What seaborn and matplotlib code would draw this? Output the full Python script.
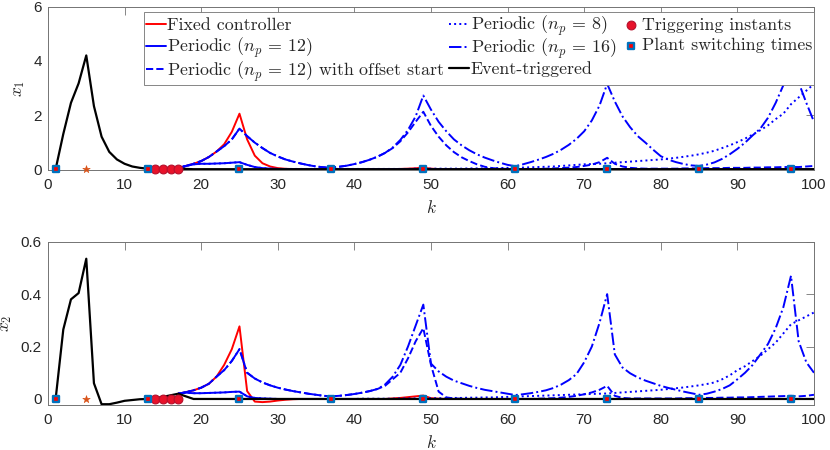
import matplotlib
matplotlib.use("Agg")
import matplotlib.pyplot as plt
import seaborn as sns

# ---------------- data ----------------
k_all = list(range(1, 101))     # k = 1..100
k_late = list(range(17, 101))   # k = 17..100 (after event-triggered phase)

event_x1 = [0, 1.3, 2.45, 3.17, 4.2, 2.33, 1.2, 0.64, 0.36, 0.2,
            0.1, 0.05, 0.02, 0.01, 0.01, 0.01, 0.02, 0.01, 0, 0,
            0, 0, 0, 0, 0, 0, 0, 0, 0, 0,
            0, 0, 0, 0, 0, 0, 0, 0, 0, 0,
            0, 0, 0, 0, 0, 0, 0, 0, 0, 0,
            0, 0, 0, 0, 0, 0, 0, 0, 0, 0,
            0, 0, 0, 0, 0, 0, 0, 0, 0, 0,
            0, 0, 0, 0, 0, 0, 0, 0, 0, 0,
            0, 0, 0, 0, 0, 0, 0, 0, 0, 0,
            0, 0, 0, 0, 0, 0, 0, 0, 0, 0]
event_x2 = [0, 0.265, 0.38, 0.404, 0.535, 0.06, -0.02, -0.02, -0.014, -0.007,
            -0.004, -0.001, 0, 0.003, 0.008, 0.014, 0.02, 0.01, 0, 0,
            0, 0, 0, 0, 0, 0, 0, 0, 0, 0,
            0, 0, 0, 0, 0, 0, 0, 0, 0, 0,
            0, 0, 0, 0, 0, 0, 0, 0, 0, 0,
            0, 0, 0, 0, 0, 0, 0, 0, 0, 0,
            0, 0, 0, 0, 0, 0, 0, 0, 0, 0,
            0, 0, 0, 0, 0, 0, 0, 0, 0, 0,
            0, 0, 0, 0, 0, 0, 0, 0, 0, 0,
            0, 0, 0, 0, 0, 0, 0, 0, 0, 0]

fixed_x1 = [0.04, 0.12, 0.2, 0.3,
            0.45, 0.65, 0.92, 1.38, 2.05, 1.1, 0.5, 0.22, 0.1, 0.04,
            0.015, 0.005, 0, 0, 0, 0, 0, 0, 0, 0,
            0, 0, 0, 0, 0.005, 0.01, 0.02, 0.035, 0.06, 0.02,
            0.005, 0, 0, 0, 0, 0, 0, 0, 0, 0,
            0, 0, 0, 0, 0, 0, 0, 0, 0, 0,
            0, 0.005, 0.01, 0.005, 0, 0, 0, 0, 0, 0,
            0, 0, 0, 0, 0, 0, 0, 0, 0, 0,
            0, 0, 0, 0, 0, 0, 0, 0, 0, 0]
fixed_x2 = [0.02, 0.026, 0.033, 0.043,
            0.058, 0.085, 0.13, 0.19, 0.277, 0.03, -0.01, -0.012, -0.01, -0.006,
            -0.003, -0.001, 0, 0, 0, 0, 0, 0, 0, 0,
            0, 0, 0, 0, 0.002, 0.004, 0.007, 0.01, 0.013, 0.003,
            0.001, 0, 0, 0, 0, 0, 0, 0, 0, 0,
            0, 0, 0, 0, 0, 0, 0, 0, 0, 0,
            0, 0, 0, 0, 0, 0, 0, 0, 0, 0,
            0, 0, 0, 0, 0, 0, 0, 0, 0, 0,
            0, 0, 0, 0, 0, 0, 0, 0, 0, 0]

per12_x1 = [0.04, 0.12, 0.18, 0.2,
            0.2, 0.21, 0.22, 0.24, 0.26, 0.16, 0.08, 0.04, 0.02, 0.01,
            0, 0, 0, 0, 0, 0, 0, 0, 0, 0,
            0, 0, 0, 0, 0, 0, 0, 0, 0, 0,
            0, 0, 0, 0, 0, 0, 0, 0, 0, 0,
            0, 0, 0, 0, 0, 0, 0, 0, 0, 0,
            0, 0, 0, 0, 0, 0, 0, 0, 0, 0,
            0, 0, 0, 0, 0, 0, 0, 0, 0, 0,
            0, 0, 0, 0, 0, 0, 0, 0, 0, 0]
per12_x2 = [0.02, 0.024, 0.022, 0.022,
            0.023, 0.024, 0.025, 0.027, 0.028, 0.01, 0.004, 0.002, 0.001, 0,
            0, 0, 0, 0, 0, 0, 0, 0, 0, 0,
            0, 0, 0, 0, 0, 0, 0, 0, 0, 0,
            0, 0, 0, 0, 0, 0, 0, 0, 0, 0,
            0, 0, 0, 0, 0, 0, 0, 0, 0, 0,
            0, 0, 0, 0, 0, 0, 0, 0, 0, 0,
            0, 0, 0, 0, 0, 0, 0, 0, 0, 0,
            0, 0, 0, 0, 0, 0, 0, 0, 0, 0]

offset_x1 = [0.04, 0.12, 0.2, 0.3,
             0.45, 0.65, 0.85, 1.1, 1.5, 1.22, 0.98, 0.78, 0.6, 0.47,
             0.36, 0.28, 0.21, 0.15, 0.1, 0.07, 0.06, 0.09, 0.13, 0.19,
             0.26, 0.35, 0.46, 0.6, 0.78, 1.03, 1.36, 1.75, 2.12, 1.6,
             1.2, 0.88, 0.63, 0.44, 0.3, 0.18, 0.09, 0.04, 0.02, 0.01,
             0.01, 0.01, 0.01, 0.01, 0.02, 0.03, 0.04, 0.06, 0.08, 0.12,
             0.17, 0.26, 0.42, 0.2, 0.1, 0.05, 0.03, 0.02, 0.02, 0.02,
             0.02, 0.02, 0.03, 0.03, 0.03, 0.04, 0.04, 0.04, 0.05, 0.05,
             0.05, 0.06, 0.06, 0.07, 0.07, 0.08, 0.08, 0.08, 0.1, 0.12]
offset_x2 = [0.02, 0.026, 0.033, 0.043,
             0.058, 0.085, 0.11, 0.145, 0.19, 0.1, 0.078, 0.063, 0.052, 0.043,
             0.036, 0.03, 0.025, 0.02, 0.016, 0.012, 0.01, 0.012, 0.015, 0.019,
             0.024, 0.03, 0.038, 0.05, 0.075, 0.1, 0.155, 0.22, 0.27, 0.13,
             0.028, 0.006, 0.002, 0.001, 0, 0, 0, 0, 0, 0,
             0, 0, 0, 0.001, 0.002, 0.003, 0.005, 0.008, 0.012, 0.018,
             0.025, 0.035, 0.05, 0.012, 0.004, 0.002, 0.002, 0.002, 0.002, 0.002,
             0.002, 0.002, 0.003, 0.003, 0.003, 0.004, 0.004, 0.005, 0.005, 0.006,
             0.006, 0.007, 0.008, 0.009, 0.01, 0.011, 0.012, 0.01, 0.012, 0.016]

per8_x1 = [0.04, 0.12, 0.18, 0.2,
           0.2, 0.21, 0.22, 0.24, 0.26, 0.16, 0.08, 0.04, 0.02, 0.01,
           0.01, 0.01, 0.01, 0.01, 0.01, 0.01, 0.01, 0.01, 0.01, 0.01,
           0.01, 0.01, 0.01, 0.01, 0.01, 0.01, 0.01, 0.02, 0.02, 0.02,
           0.02, 0.02, 0.02, 0.02, 0.03, 0.03, 0.03, 0.04, 0.04, 0.05,
           0.05, 0.06, 0.07, 0.08, 0.09, 0.1, 0.12, 0.14, 0.16, 0.18,
           0.19, 0.2, 0.22, 0.24, 0.26, 0.28, 0.3, 0.32, 0.34, 0.36,
           0.39, 0.42, 0.46, 0.5, 0.55, 0.61, 0.68, 0.78, 0.88, 1.0,
           1.13, 1.28, 1.44, 1.62, 1.85, 2.05, 2.4, 2.65, 2.9, 3.15]
per8_x2 = [0.02, 0.024, 0.022, 0.022,
           0.023, 0.024, 0.025, 0.027, 0.028, 0.01, 0.004, 0.002, 0.001, 0,
           0, 0, 0, 0, 0, 0, 0, 0, 0, 0,
           0.001, 0.001, 0.001, 0.001, 0.001, 0.002, 0.002, 0.002, 0.002, 0.003,
           0.003, 0.003, 0.004, 0.004, 0.005, 0.005, 0.006, 0.006, 0.007, 0.008,
           0.009, 0.01, 0.011, 0.012, 0.013, 0.014, 0.015, 0.016, 0.017, 0.018,
           0.019, 0.02, 0.021, 0.023, 0.025, 0.027, 0.029, 0.031, 0.033, 0.035,
           0.038, 0.041, 0.044, 0.048, 0.052, 0.057, 0.063, 0.075, 0.09, 0.11,
           0.125, 0.145, 0.165, 0.19, 0.215, 0.25, 0.285, 0.3, 0.315, 0.33]

per16_x1 = [0.04, 0.12, 0.2, 0.3,
            0.45, 0.65, 0.85, 1.1, 1.5, 1.22, 0.98, 0.78, 0.6, 0.47,
            0.36, 0.28, 0.21, 0.15, 0.1, 0.07, 0.06, 0.09, 0.13, 0.19,
            0.26, 0.35, 0.46, 0.6, 0.8, 1.08, 1.45, 1.95, 2.72, 2.2,
            1.75, 1.4, 1.1, 0.88, 0.7, 0.55, 0.43, 0.33, 0.24, 0.16,
            0.11, 0.18, 0.26, 0.35, 0.45, 0.57, 0.72, 0.9, 1.12, 1.4,
            1.8, 2.35, 3.15, 2.5, 1.95, 1.55, 1.22, 0.98, 0.72, 0.48,
            0.35, 0.26, 0.19, 0.14, 0.12, 0.17, 0.25, 0.38, 0.55, 0.75,
            0.98, 1.25, 1.5, 1.9, 2.45, 3.1, 4.0, 3.2, 2.45, 1.75]
per16_x2 = [0.02, 0.026, 0.033, 0.043,
            0.058, 0.085, 0.11, 0.145, 0.19, 0.1, 0.078, 0.063, 0.052, 0.043,
            0.036, 0.03, 0.025, 0.02, 0.016, 0.012, 0.01, 0.012, 0.015, 0.019,
            0.024, 0.03, 0.038, 0.055, 0.085, 0.13, 0.2, 0.28, 0.36, 0.135,
            0.105, 0.085, 0.07, 0.06, 0.05, 0.042, 0.035, 0.03, 0.025, 0.02,
            0.015, 0.018, 0.022, 0.027, 0.033, 0.042, 0.055, 0.072, 0.095, 0.14,
            0.2, 0.29, 0.4, 0.17, 0.12, 0.098, 0.082, 0.07, 0.06, 0.05,
            0.042, 0.035, 0.028, 0.022, 0.016, 0.02, 0.028, 0.038, 0.052, 0.075,
            0.1, 0.13, 0.17, 0.21, 0.27, 0.35, 0.47, 0.22, 0.14, 0.1]

trig_k = [14, 15, 16, 17]
trig_y = [0, 0, 0, 0]
switch_k = [1, 13, 25, 37, 49, 61, 73, 85, 97]
switch_y = [0, 0, 0, 0, 0, 0, 0, 0, 0]
first_trig_k = [5]
first_trig_y = [0]

labels = ["Fixed controller",
          r"Periodic ($n_p\,=\,12$)",
          r"Periodic ($n_p\,=\,12$) with offset start",
          r"Periodic ($n_p\,=\,8$)",
          r"Periodic ($n_p\,=\,16$)",
          "Event-triggered",
          "Triggering instants",
          "Plant switching times"]

# ---------------- style ----------------
sns.set_theme(style="white")
plt.rcParams["font.family"] = ["Liberation Sans", "DejaVu Sans"]
plt.rcParams["mathtext.fontset"] = "cm"

fig = plt.figure(figsize=(8.3, 4.5), dpi=100)
ax1 = fig.add_axes([0.0578, 0.6222, 0.9229, 0.3629])
ax2 = fig.add_axes([0.0578, 0.1000, 0.9229, 0.3629])

RED = "#ff0000"
BLUE = "#0000ff"
SW_EDGE = "#0072BD"
ORANGE = "#D95319"


def panel(ax, fx, p12, off, p8, p16, ev, with_labels):
    lab = (lambda i: labels[i]) if with_labels else (lambda i: None)
    lw = 1.4
    common = dict(ax=ax, legend=with_labels)
    sns.lineplot(x=k_late, y=fx, color=RED, lw=lw, label=lab(0), zorder=3, **common)
    sns.lineplot(x=k_late, y=p12, color=BLUE, lw=lw, label=lab(1), zorder=3, **common)
    sns.lineplot(x=k_late, y=off, color=BLUE, lw=lw, ls="--", label=lab(2), zorder=3, **common)
    sns.lineplot(x=k_late, y=p8, color=BLUE, lw=lw, ls=":", label=lab(3), zorder=3, **common)
    sns.lineplot(x=k_late, y=p16, color=BLUE, lw=lw, ls="-.", label=lab(4), zorder=3, **common)
    sns.lineplot(x=k_all, y=ev, color="black", lw=1.6, label=lab(5), zorder=4, **common)
    sns.scatterplot(x=first_trig_k, y=first_trig_y, ax=ax, marker="*", s=32,
                    color=ORANGE, edgecolor=ORANGE, linewidth=0.4, zorder=5,
                    clip_on=False, legend=False)
    sns.scatterplot(x=trig_k, y=trig_y, ax=ax, marker="o", s=40, color="#e8122a",
                    edgecolor="#b5102c", linewidth=0.8, zorder=5, clip_on=False,
                    label=lab(6), legend=with_labels)
    sns.scatterplot(x=switch_k, y=switch_y, ax=ax, marker="s", s=20, color="#ff0000",
                    edgecolor=SW_EDGE, linewidth=1.7, zorder=6, clip_on=False,
                    label=lab(7), legend=with_labels)

    ax.set_xlim(0, 100)
    ax.set_xticks(list(range(0, 101, 10)))
    for sp in ax.spines.values():
        sp.set_color("0.45")
        sp.set_linewidth(0.7)
        sp.set_visible(True)
    ax.tick_params(direction="in", length=5.5, width=0.6, color="0.45",
                   top=True, right=True, labelsize=11, labelcolor="0.15")
    ax.tick_params(axis="x", pad=5.5)
    ax.tick_params(axis="y", pad=4.5)
    ax.set_xlabel(r"$k$", fontsize=12.5)
    ax.xaxis.set_label_coords(0.5, -0.227)
    ax.xaxis.label.set_va("center")


panel(ax1, fixed_x1, per12_x1, offset_x1, per8_x1, per16_x1, event_x1, True)
panel(ax2, fixed_x2, per12_x2, offset_x2, per8_x2, per16_x2, event_x2, False)

ax1.set_ylim(-0.03, 6)
ax1.set_yticks([0, 2, 4, 6])
ax1.set_ylabel(r"$x_1$", fontsize=12.5)
ax1.yaxis.set_label_coords(-0.0366, 0.5)
ax1.yaxis.label.set_va("center")

ax2.set_ylim(-0.023, 0.6)
ax2.set_yticks([0, 0.2, 0.4, 0.6])
ax2.set_yticklabels(["0", "0.2", "0.4", "0.6"])
ax2.set_ylabel(r"$x_2$", fontsize=12.5)
ax2.yaxis.set_label_coords(-0.0535, 0.5)
ax2.yaxis.label.set_va("center")

LEG_FS = 12.9
handles, labs = ax1.get_legend_handles_labels()
hmap = dict(zip(labs, handles))
leg = ax1.legend([hmap[l] for l in labels], labels, ncol=3,
                 loc="upper right", bbox_to_anchor=(1.0, 0.9675),
                 borderaxespad=0.0, frameon=True, fancybox=False,
                 framealpha=1.0, edgecolor="0.45",
                 prop={"family": "cmr10", "size": LEG_FS},
                 handlelength=1.1, handleheight=0.7, handletextpad=0.08,
                 columnspacing=0.25, labelspacing=-0.06, borderpad=0.1,
                 markerscale=1.0)
leg.get_frame().set_linewidth(0.6)
leg.set_zorder(10)

# give every legend row the same ascent/descent so rows are evenly spaced
row_ascent = 0.8 * LEG_FS
row_descent = 5.2
for column in leg._legend_handle_box.get_children():
    for item in column.get_children():
        hbox = item.get_children()[0]
        hbox.ydescent = row_descent
        hbox.height = row_ascent + row_descent

fig.savefig("out.png", dpi=100)
